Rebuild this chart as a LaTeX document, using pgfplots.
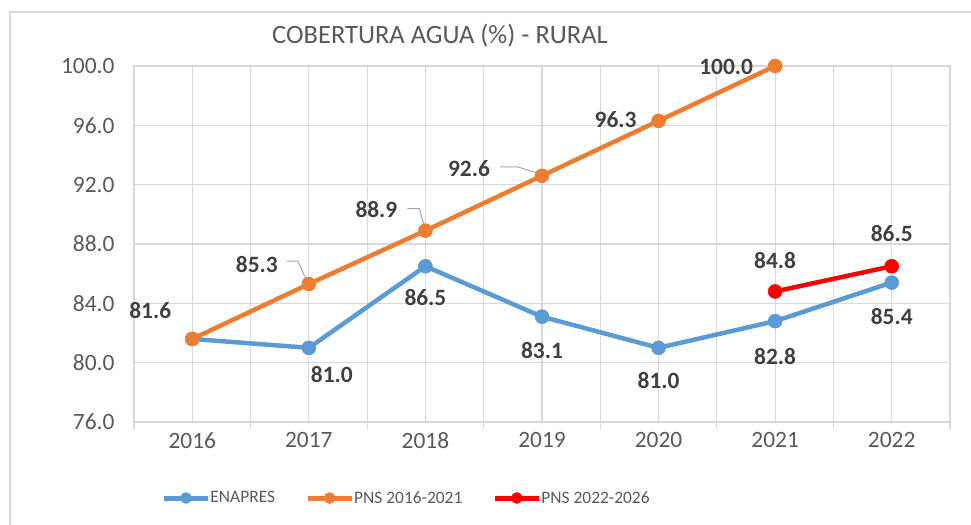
\documentclass[border=0pt]{standalone}
\usepackage{fontspec}
\setmainfont{Carlito}
\usepackage{pgfplots}
\pgfplotsset{compat=1.18}
\definecolor{cblue}{HTML}{5B9BD5}
\definecolor{corange}{HTML}{ED7D31}
\definecolor{cred}{HTML}{FF0000}
\definecolor{cgrid}{HTML}{D9D9D9}
\definecolor{ctick}{HTML}{595959}
\definecolor{clab}{HTML}{404040}
\definecolor{clead}{HTML}{A6A6A6}
\tikzset{lbl/.style={font=\bfseries\fontsize{23.5}{27}\selectfont, text=clab}}
\begin{document}
\begin{tikzpicture}
\path[use as bounding box] (0bp,0bp) rectangle (971bp,525bp);
\draw[cgrid, line width=1.2bp] (10bp,0bp) -- (10bp,513bp) -- (971bp,513bp);
\node[text=ctick, font=\fontsize{26.6}{30}\selectfont] at (440bp,489bp) {COBERTURA AGUA (\%) - RURAL};
\begin{axis}[
  at={(134bp,103bp)}, anchor=south west, scale only axis,
  width=816bp, height=356bp,
  xmin=2015.5, xmax=2022.5, ymin=76, ymax=100,
  xtick={2016,2017,2018,2019,2020,2021,2022},
  minor xtick={2015.5,2016.5,2017.5,2018.5,2019.5,2020.5,2021.5,2022.5},
  ytick={76,80,84,88,92,96,100},
  xmajorgrids, xminorgrids, ymajorgrids,
  major grid style={cgrid, line width=1.2bp},
  minor grid style={cgrid, line width=1.2bp},
  axis line style={cgrid, line width=1.2bp},
  major tick length=0pt, minor tick length=7bp,
  tick align=outside, tick pos=left,
  minor tick style={cgrid, line width=1.2bp},
  x tick label style={font=\fontsize{23.5}{27}\selectfont, text=ctick, yshift=-7bp,
     /pgf/number format/1000 sep={}},
  y tick label style={font=\fontsize{23.5}{27}\selectfont, text=ctick, xshift=-16bp,
     /pgf/number format/.cd, fixed, fixed zerofill, precision=1},
  /pgf/number format/assume math mode=true,
  clip=false,
  legend columns=3,
  legend style={at={(0.334,-0.2135)}, anchor=center, draw=none, fill=none,
     font=\fontsize{17.5}{21}\selectfont, text=ctick,
     /tikz/every odd column/.append style={column sep=-2bp},
     /tikz/every even column/.append style={column sep=28bp}},
  legend image code/.code={\draw[mark repeat=2,mark phase=2,#1,line width=5bp,mark size=5.5bp] plot coordinates {(0bp,0bp) (22bp,0bp) (44bp,0bp)};},
]
\draw[clead, line width=1bp] ([xshift=-22bp,yshift=23bp]axis cs:2017,85.3) -- ([xshift=-11bp,yshift=23bp]axis cs:2017,85.3) -- ([xshift=-2bp,yshift=3bp]axis cs:2017,85.3);
\draw[clead, line width=1bp] ([xshift=-18bp,yshift=22bp]axis cs:2018,88.9) -- ([xshift=-6bp,yshift=22bp]axis cs:2018,88.9) -- ([xshift=-1bp,yshift=4bp]axis cs:2018,88.9);
\draw[clead, line width=1bp] ([xshift=-42bp,yshift=9bp]axis cs:2019,92.6) -- ([xshift=-25bp,yshift=9bp]axis cs:2019,92.6) -- ([xshift=-2bp,yshift=2bp]axis cs:2019,92.6);

\addplot[cblue, line width=4.5bp, mark=*, mark size=7bp, mark options={line width=0.5bp}]
  coordinates {(2016,81.6)(2017,81.0)(2018,86.5)(2019,83.1)(2020,81.0)(2021,82.8)(2022,85.4)};
\addlegendentry{ENAPRES}
\addplot[corange, line width=4.5bp, mark=*, mark size=7bp, mark options={line width=0.5bp}]
  coordinates {(2016,81.6)(2017,85.3)(2018,88.9)(2019,92.6)(2020,96.3)(2021,100.0)};
\addlegendentry{PNS 2016-2021}
\addplot[cred, line width=4.5bp, mark=*, mark size=7bp, mark options={line width=0.5bp}]
  coordinates {(2021,84.8)(2022,86.5)};
\addlegendentry{PNS 2022-2026}

% ENAPRES labels
\node[lbl, xshift=23bp, yshift=-27bp] at (axis cs:2017,81.0) {81.0};
\node[lbl, yshift=-31bp] at (axis cs:2018,86.5) {86.5};
\node[lbl, yshift=-34bp] at (axis cs:2019,83.1) {83.1};
\node[lbl, yshift=-33bp] at (axis cs:2020,81.0) {81.0};
\node[lbl, yshift=-35bp] at (axis cs:2021,82.8) {82.8};
\node[lbl, yshift=-34bp] at (axis cs:2022,85.4) {85.4};
% PNS 2016-2021 labels
\node[lbl, xshift=-42bp, yshift=28bp] at (axis cs:2016,81.6) {81.6};
\node[lbl, xshift=-52bp, yshift=20bp] at (axis cs:2017,85.3) {85.3};
\node[lbl, xshift=-49bp, yshift=21bp] at (axis cs:2018,88.9) {88.9};
\node[lbl, xshift=-73bp, yshift=7bp] at (axis cs:2019,92.6) {92.6};
\node[lbl, xshift=-43bp, yshift=1bp] at (axis cs:2020,96.3) {96.3};
\node[lbl, xshift=-49bp, yshift=-1bp] at (axis cs:2021,100.0) {100.0};
% PNS 2022-2026 labels
\node[lbl, yshift=31bp] at (axis cs:2021,84.8) {84.8};
\node[lbl, yshift=33bp] at (axis cs:2022,86.5) {86.5};
\end{axis}
\end{tikzpicture}
\end{document}
